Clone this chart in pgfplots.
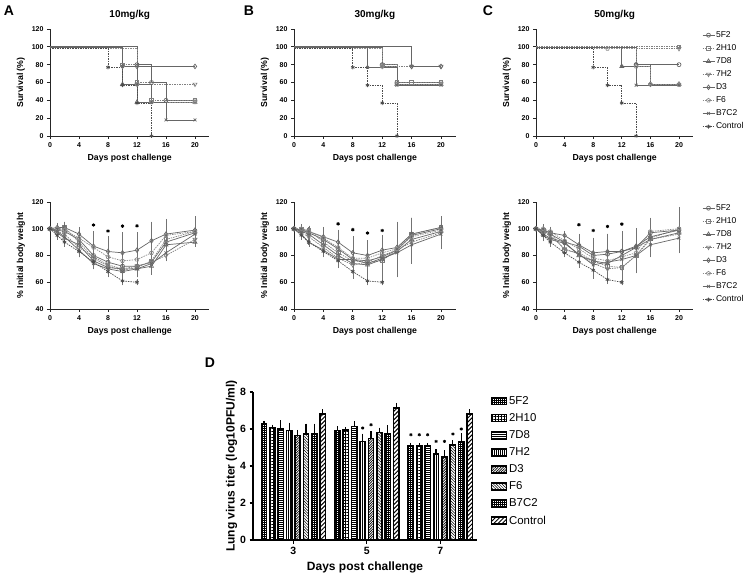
\documentclass[border=0pt]{standalone}
\usepackage{fontspec}
\setmainfont{Liberation Sans}
\usepackage{pgfplots}
\usepackage{pgfplotstable}
\pgfplotsset{compat=1.18}
\usetikzlibrary{patterns,patterns.meta}

% weight tables: day, mean and SD for 5F2,2H10,7D8,7H2,D3,F6,B7C2,Control
\pgfplotstableread{
d m1 e1 m2 e2 m3 e3 m4 e4 m5 e5 m6 e6 m7 e7 m8 e8
0 100 0 100 0 100 0 100 0 100 0 100 0 100 0 100 0
1 99 2 100 2 97 2 98 2 101 2 100 2 98 2 95 2
2 98 3 101 3 93 3 96 3 101 3 99 3 94 3 90 2
4 92 4 90 5 88 4 86 5 96 4 93 4 84 4 83 3
6 80 6 78 7 76 4 79 6 87 10 86 8 74 3 75 3
8 75 8 72 5 71 4 73 7 83 10 79 7 70 3 68 3
10 72 8 69 6 70 5 70 8 82 14 76 10 68 5 61 2
12 72 7 71 5 70 4 72 7 84 12 77 10 70 3 60 1
14 75 8 76 6 72 4 75 8 91 13 82 10 74 3 nan nan
16 90 8 92 7 88 7 80 3 96 10 95 9 82 4 nan nan
20 97 4 98 4 90 2 92 3 99 9 98 5 96 4 nan nan
}\wA
\pgfplotstableread{
d m1 e1 m2 e2 m3 e3 m4 e4 m5 e5 m6 e6 m7 e7 m8 e8
0 100 0 100 0 100 0 100 0 100 0 100 0 100 0 100 0
1 99 2 100 2 98 3 97 2 99 2 100 2 96 3 95 2
2 97 3 99 2 96 3 94 3 98 3 98 2 90 2 90 2
4 92 5 90 5 88 4 86 4 94 6 93 5 84 3 83 3
6 85 8 82 6 80 5 78 5 90 8 86 7 77 5 76 4
8 77 8 76 6 74 6 73 6 82 11 78 10 77 9 68 4
10 76 10 75 8 73 8 75 7 80 10 78 8 74 8 61 2
12 79 10 76 12 77 10 80 9 84 8 82 12 78 14 60 1
14 84 12 85 10 83 15 84 16 86 14 85 19 82 17 nan nan
16 95 12 96 11 92 10 90 12 96 11 94 13 88 13 nan nan
20 100 5 101 7 98 6 97 8 101 6 99 7 96 10 nan nan
}\wB
\pgfplotstableread{
d m1 e1 m2 e2 m3 e3 m4 e4 m5 e5 m6 e6 m7 e7 m8 e8
0 100 0 100 0 100 0 100 0 100 0 100 0 100 0 100 0
1 98 2 99 3 96 2 97 2 99 2 100 2 95 3 95 2
2 96 2 97 3 93 3 95 3 97 2 98 2 92 3 90 2
4 90 3 84 3 90 3 85 3 95 2 91 4 89 2 82 2
6 87 8 82 5 80 6 81 5 88 6 85 8 81 6 75 3
8 80 10 76 8 76 6 74 5 82 9 78 14 73 6 69 3
10 81 14 72 6 74 8 70 8 83 12 76 12 75 8 62 2
12 83 14 71 4 80 10 71 8 83 10 79 14 77 10 60 1
14 86 9 80 8 86 6 80 9 87 12 82 14 80 10 nan nan
16 97 7 93 8 92 5 92 8 94 8 98 9 88 8 nan nan
20 99 8 100 5 97 6 96 7 99 7 100 15 93 10 nan nan
}\wC
% lung virus titer, groups 0,1,2 = day 3,5,7
\pgfplotstableread{
g m1 e1 m2 e2 m3 e3 m4 e4 m5 e5 m6 e6 m7 e7 m8 e8
0 6.27 0.06 6.09 0.04 6.00 0.36 5.91 0.32 5.64 0.21 5.73 0.45 5.73 0.45 6.81 0.15
1 5.91 0.14 5.94 0.05 6.14 0.16 5.33 0.31 5.49 0.27 5.82 0.14 5.73 0.36 7.14 0.16
2 5.09 0.05 5.09 0.04 5.09 0.04 4.64 0.15 4.50 0.23 5.13 0.15 5.33 0.34 6.81 0.15
}\lung

\pgfplotsset{
  gp/.style={scale only axis, height=107pt, xmin=0, xmax=22, xtick={0,4,...,20},
    axis lines=left, axis line style={-, line width=0.9pt, black!85},
    tick align=outside, major tick length=3pt, tick style={line width=0.8pt, black!85},
    clip=false, /pgf/number format/assume math mode=true,
    ticklabel style={font=\bfseries\fontsize{7}{8}\selectfont},
    label style={font=\bfseries\fontsize{8.7}{10}\selectfont},
    xlabel={Days post challenge},
    title style={font=\bfseries\fontsize{10}{12}\selectfont, at={(0.5,1)}, anchor=center, yshift=8pt},
    legend image code/.code={\draw[#1, mark repeat=2, mark phase=2] plot coordinates {(0pt,0pt) (6pt,0pt) (12pt,0pt)};},
  },
  surv/.style={gp, ymin=0, ymax=120, ytick={0,20,...,120}, ylabel={Survival (\%)}},
  wt/.style={gp, ymin=40, ymax=120, ytick={40,60,...,120}, ylabel={\% Initial body weight}},
  rlegend/.style={legend style={at={(axis description cs:1.055,0.99)}, anchor=north west,
    draw=none, fill=none, inner sep=0pt, row sep=3.2pt, nodes={inner sep=1.2pt},
    font=\fontsize{8.5}{10}\selectfont, legend cell align=left}},
  s1/.style={black!60, line width=0.7pt, mark=o, mark size=2pt, mark options={solid, fill=white}},
  s2/.style={black!50, line width=0.7pt, dash pattern=on 1.5pt off 1pt, mark=square, mark size=1.8pt, mark options={solid, fill=white}},
  s3/.style={black!60, line width=0.7pt, mark=triangle, mark size=2.3pt, mark options={solid, fill=white}},
  s4/.style={black!50, line width=0.7pt, dash pattern=on 1.5pt off 1pt, mark=triangle, mark size=2.3pt, mark options={solid, fill=white, rotate=180}},
  s5/.style={black!60, line width=0.7pt, mark=diamond, mark size=2.3pt, mark options={solid, fill=white}},
  s6/.style={black!45, line width=0.7pt, dash pattern=on 1.5pt off 1pt, mark=pentagon, mark size=2pt, mark options={solid, fill=white}},
  s7/.style={black!60, line width=0.7pt, mark=x, mark size=2pt, mark options={solid}},
  s8/.style={black!70, line width=0.7pt, dash pattern=on 1.5pt off 1pt, mark=asterisk, mark size=2pt, mark options={solid}},
  km/.style={const plot, mark repeat=1, mark phase=2},
  eb/.style={error bars/y dir=both, error bars/y explicit,
    error bars/error bar style={solid, line width=0.5pt, black!55},
    error bars/error mark options={mark size=1.8pt, black!55}},
  sig/.style={only marks, mark=asterisk, mark size=1.7pt, line width=0.9pt, black},
}

\begin{document}
\begin{tikzpicture}[x=1pt,y=1pt]
\useasboundingbox (0,0) rectangle (750,576);
\tikzset{lab/.style={font=\bfseries\fontsize{14}{14}\selectfont}}
\node[lab] at (9,565) {A};
\node[lab] at (249,565) {B};
\node[lab] at (488,565) {C};
\node[lab] at (210,213) {D};

% ---------- survival ----------
\begin{axis}[surv, width=159.5pt, at={(50pt,440pt)}, anchor=south west, title={10mg/kg}]
\addplot[s1,km] coordinates {(0,100)(12,80)(14,60)(16,40)(20,40)};
\addplot[s2,km] coordinates {(0,99)(10,80)(12,60)(14,40)(20,40)};
\addplot[s3,km] coordinates {(0,99)(10,58)(12,38)(20,38)};
\addplot[s4,km] coordinates {(0,98)(10,78)(12,58)(20,58)};
\addplot[s5,km] coordinates {(0,100)(12,78)(20,78)};
\addplot[s6,km] coordinates {(0,98)(12,58)(14,38)(20,38)};
\addplot[s7,km] coordinates {(0,99)(10,78)(12,58)(14,38)(16,18)(20,18)};
\addplot[s8,km] coordinates {(0,98)(8,77)(10,57)(12,37)(14,0)};
\end{axis}

\begin{axis}[surv, width=161.7pt, at={(294pt,440pt)}, anchor=south west, title={30mg/kg}]
\addplot[s1,km] coordinates {(0,99)(12,80)(14,60)(20,60)};
\addplot[s2,km] coordinates {(0,98)(12,80)(14,60)(16,60)(20,60)};
\addplot[s3,km] coordinates {(0,99)(12,78)(14,58)(20,58)};
\addplot[s4,km] coordinates {(0,98)(12,78)(16,78)(20,78)};
\addplot[s5,km] coordinates {(0,100)(16,78)(20,78)};
\addplot[s6,km] coordinates {(0,98)(12,78)(14,58)(20,58)};
\addplot[s7,km] coordinates {(0,99)(10,77)(14,57)(20,57)};
\addplot[s8,km] coordinates {(0,98)(8,77)(10,57)(12,37)(14,0)};
\end{axis}

\begin{axis}[surv, width=157.3pt, at={(536pt,440pt)}, anchor=south west, title={50mg/kg}, rlegend]
\addplot[s1,km] coordinates {(0,99)(14,80)(20,80)};
\addplot[s2,km] coordinates {(0,100)(20,100)};
\addplot[s3,km] coordinates {(0,99)(12,78)(16,58)(20,58)};
\addplot[s4,km] coordinates {(0,98)(20,98)};
\addplot[s5,km] coordinates {(0,99)(14,80)(16,58)(20,58)};
\addplot[s6,km] coordinates {(0,98)(10,98)(14,78)(16,58)(20,58)};
\addplot[s7,km] coordinates {(0,99)(12,78)(14,57)(20,57)};
\addplot[s8,km] coordinates {(0,98)(8,77)(10,57)(12,37)(14,0)};
\legend{5F2,2H10,7D8,7H2,D3,F6,B7C2,Control}
\end{axis}

% ---------- body weight ----------
\begin{axis}[wt, width=159.5pt, at={(50pt,267pt)}, anchor=south west]
\addplot[s1,eb] table[x=d,y=m1,y error=e1] {\wA};
\addplot[s2,eb] table[x=d,y=m2,y error=e2] {\wA};
\addplot[s3,eb] table[x=d,y=m3,y error=e3] {\wA};
\addplot[s4,eb] table[x=d,y=m4,y error=e4] {\wA};
\addplot[s5,eb] table[x=d,y=m5,y error=e5] {\wA};
\addplot[s6,eb] table[x=d,y=m6,y error=e6] {\wA};
\addplot[s7,eb] table[x=d,y=m7,y error=e7] {\wA};
\addplot[s8,eb] table[x=d,y=m8,y error=e8] {\wA};
\addplot[sig] coordinates {(6,102.8)(8,98.3)(10,102)(12,102.2)};
\end{axis}

\begin{axis}[wt, width=161.7pt, at={(294pt,267pt)}, anchor=south west]
\addplot[s1,eb] table[x=d,y=m1,y error=e1] {\wB};
\addplot[s2,eb] table[x=d,y=m2,y error=e2] {\wB};
\addplot[s3,eb] table[x=d,y=m3,y error=e3] {\wB};
\addplot[s4,eb] table[x=d,y=m4,y error=e4] {\wB};
\addplot[s5,eb] table[x=d,y=m5,y error=e5] {\wB};
\addplot[s6,eb] table[x=d,y=m6,y error=e6] {\wB};
\addplot[s7,eb] table[x=d,y=m7,y error=e7] {\wB};
\addplot[s8,eb] table[x=d,y=m8,y error=e8] {\wB};
\addplot[sig] coordinates {(6,103.7)(8,99.3)(10,96.8)(12,98.7)};
\end{axis}

\begin{axis}[wt, width=157.3pt, at={(536pt,267pt)}, anchor=south west, rlegend]
\addplot[s1,eb] table[x=d,y=m1,y error=e1] {\wC};
\addplot[s2,eb] table[x=d,y=m2,y error=e2] {\wC};
\addplot[s3,eb] table[x=d,y=m3,y error=e3] {\wC};
\addplot[s4,eb] table[x=d,y=m4,y error=e4] {\wC};
\addplot[s5,eb] table[x=d,y=m5,y error=e5] {\wC};
\addplot[s6,eb] table[x=d,y=m6,y error=e6] {\wC};
\addplot[s7,eb] table[x=d,y=m7,y error=e7] {\wC};
\addplot[s8,eb] table[x=d,y=m8,y error=e8] {\wC};
\addplot[sig] coordinates {(6,103)(8,98.7)(10,101.7)(12,103.5)};
\legend{5F2,2H10,7D8,7H2,D3,F6,B7C2,Control}
\end{axis}

% ---------- lung virus titer ----------
\begin{axis}[scale only axis, width=224pt, height=148pt, at={(253pt,36pt)}, anchor=south west,
  xmin=-0.55, xmax=2.5, ymin=0, ymax=8, ytick={0,2,...,8}, xtick={0,1,2}, xticklabels={3,5,7},
  axis lines=left, axis line style={-, line width=1.5pt, black},
  tick align=outside, major tick length=3.5pt, tick style={line width=1.2pt, black},
  /pgf/number format/assume math mode=true,
  ticklabel style={font=\bfseries\fontsize{10.5}{12}\selectfont},
  label style={font=\bfseries\fontsize{12}{14}\selectfont},
  xlabel={Days post challenge}, ylabel={Lung virus titer (log10PFU/ml)},
  ylabel style={yshift=-4pt},
  ybar=3.1pt, bar width=5.3pt,
  every axis plot/.append style={draw=black, line width=1.5pt,
    error bars/y dir=plus, error bars/y explicit,
    error bars/error bar style={line width=1.2pt, black},
    error bars/error mark options={mark size=2pt, line width=1.2pt, black}},
  legend image code/.code={\draw[#1, line width=1.5pt] (0pt,-3.5pt) rectangle (15pt,3.5pt);},
  legend style={at={(axis description cs:1.06,0.985)}, anchor=north west, draw=none, fill=none,
    inner sep=0pt, row sep=3.6pt, font=\fontsize{11.4}{13}\selectfont, legend cell align=left}]
\addplot[pattern={Hatch[distance=2pt, line width=0.4pt]}] table[x=g,y=m1,y error=e1] {\lung};
\addplot[pattern={Hatch[distance=3pt, line width=1pt]}] table[x=g,y=m2,y error=e2] {\lung};
\addplot[pattern={Lines[angle=0, distance=2pt, line width=0.6pt]}] table[x=g,y=m3,y error=e3] {\lung};
\addplot[pattern={Lines[angle=90, distance=2pt, line width=0.6pt]}] table[x=g,y=m4,y error=e4] {\lung};
\addplot[pattern={Lines[angle=45, distance=1.8pt, line width=0.7pt]}] table[x=g,y=m5,y error=e5] {\lung};
\addplot[pattern={Lines[angle=-45, distance=2pt, line width=0.5pt]}] table[x=g,y=m6,y error=e6] {\lung};
\addplot[pattern={Hatch[angle=0, distance=2pt, line width=0.5pt]}] table[x=g,y=m7,y error=e7] {\lung};
\addplot[pattern={Lines[angle=45, distance=3pt, line width=1pt]}] table[x=g,y=m8,y error=e8] {\lung};
\legend{5F2,2H10,7D8,7H2,D3,F6,B7C2,Control}
\end{axis}
% significance marks over the bars (same axis frame, no bar handler)
\begin{axis}[scale only axis, width=224pt, height=148pt, at={(253pt,36pt)}, anchor=south west,
  xmin=-0.55, xmax=2.5, ymin=0, ymax=8, axis lines=none, clip=false]
\addplot[only marks, mark=asterisk, mark size=1.6pt, line width=0.8pt, black] coordinates {
  (0.943,6.05)(1.057,6.23)
  (1.600,5.69)(1.714,5.69)(1.828,5.69)(1.943,5.33)(2.057,5.33)(2.172,5.73)(2.286,6.0)};
\end{axis}
\end{tikzpicture}
\end{document}
